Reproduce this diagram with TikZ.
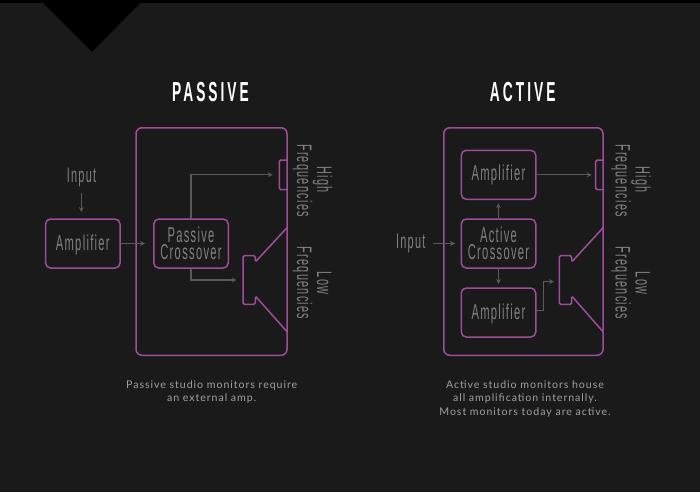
\documentclass[tikz,border=0pt]{standalone}
\usepackage{fontspec}
\usepackage{tikz}
\usetikzlibrary{positioning,calc}
\newfontfamily\condfont[FakeStretch=0.52,LetterSpace=6]{Liberation Sans}
\newfontfamily\titlefont[FakeStretch=0.5,LetterSpace=11]{Liberation Sans}
\newfontfamily\notefont[LetterSpace=9]{Lato}
\definecolor{bgdark}{HTML}{1A1A1A}
\definecolor{monitor}{HTML}{A04C9C}
\definecolor{labelgray}{HTML}{808080}
\definecolor{wiregray}{HTML}{5A5A5A}
\definecolor{notegray}{HTML}{A0A0A0}
\tikzset{
  title/.style={text=white,font=\titlefont\bfseries\fontsize{27.5}{27.5}\selectfont,inner sep=0pt},
  label/.style={text=labelgray,font=\condfont\fontsize{21}{17}\selectfont,align=center,inner sep=0pt},
  sidelabel/.style={label,rotate=-90,anchor=base},
  note/.style={text=notegray,font=\notefont\fontsize{10.6}{13.6}\selectfont,align=center,inner sep=0pt},
  cabinet/.style={draw=monitor,line width=1.5pt,rounded corners=6pt,inner sep=0pt,outer sep=0pt},
  block/.style={cabinet,rounded corners=5pt,minimum width=74.5pt,minimum height=49pt,
    text=labelgray,font=\condfont\fontsize{21.5}{17}\selectfont,align=center},
  driver/.style={draw=monitor,line width=1.5pt,rounded corners=1.5pt,inner sep=0pt,outer sep=0pt},
  wire/.style={draw=wiregray,line width=1.2pt,->,>=stealth}
}
\begin{document}
\begin{tikzpicture}[x=1pt,y=-1pt]
    % background
    \fill[bgdark] (0,0) rectangle (700,492);
    \fill[black] (0,0) rectangle (700,3);
    \fill[black] (43,3) -- (140,3) -- (92,52) -- cycle;
    \useasboundingbox (0,0) rectangle (700,492);

    % Passive
    \node[title] (ptitle) at (210.5,92) {PASSIVE};
    \node[cabinet,minimum width=151pt,minimum height=227.5pt] (pbox) at (211.5,241.5) {};
    \node[block,text height=15.7pt,text depth=1.3pt] (pamp) at (82.8,243.5) {Amplifier};
    \node[block] (pcross) at (191,243.5) {Passive\\Crossover};
    \node[label] (pinput) at (81.5,177) {Input};

    % Passive speakers
    \draw[driver] (287,160) -| (279.3,189.7) -- (287,189.7);
    \draw[driver] (287,227.7) -- (255.3,262) -- (255.3,255.7) -- (243,255.7) -- (243,304.3)
      -- (255.3,304.3) -- (255.3,296) -- (287,331.7);
    \node[sidelabel] (phigh) at (317,179.5) {High};
    \node[sidelabel] (phighf) at (297,180.5) {Frequencies};
    \node[sidelabel] (plow) at (317,283) {Low};
    \node[sidelabel] (plowf) at (297,283) {Frequencies};

    % Passive wires
    \coordinate (ptweet) at (272.7,174.7);
    \coordinate (pwoof) at (236.7,280);
    \coordinate (pin) at (81.3,193);
    \coordinate (pamptop) at (81.3,212);
    \coordinate (pcrossin) at (145,243.5);
    \draw[wire] (pin) -- (pamptop);
    \draw[wire] (pamp.east) -- (pcrossin);
    \draw[wire] (pcross.north) |- (ptweet);
    \draw[wire] (pcross.south) |- (pwoof);

    % Active
    \node[title] (atitle) at (522.7,92) {ACTIVE};
    \node[cabinet,minimum width=159.3pt,minimum height=227.5pt] (abox) at (523.4,241.5) {};
    \node[block] (atop) at (498.5,174.8) {Amplifier};
    \node[block] (across) at (498.5,243.5) {Active\\Crossover};
    \node[block,text height=15.7pt,text depth=2.7pt] (abot) at (498.5,312.5) {Amplifier};
    \node[label] (ainput) at (410.7,243.5) {Input};

    % Active speakers
    \draw[driver] (603,160) -| (595.7,189.7) -- (603,189.7);
    \draw[driver] (603,227.7) -- (571.7,262) -- (571.7,255.7) -- (559.3,255.7) -- (559.3,304.3)
      -- (571.7,304.3) -- (571.7,296) -- (603,331.7);
    \node[sidelabel] (ahigh) at (635.5,179.5) {High};
    \node[sidelabel] (ahighf) at (615.5,180.5) {Frequencies};
    \node[sidelabel] (alow) at (635.5,283) {Low};
    \node[sidelabel] (alowf) at (615.5,283) {Frequencies};

    % Active wires
    \coordinate (ain) at (433.3,243.5);
    \coordinate (acrossin) at (455,243.5);
    \coordinate (atweet) at (591.7,174.8);
    \coordinate (awoof) at (554,281.7);
    \coordinate (abend) at (543.3,310.7);
    \draw[wire] (ain) -- (acrossin);
    \draw[wire] (atop.east) -- (atweet);
    \draw[wire,shorten >=4pt] (across.north) -- (atop.south);
    \draw[wire,shorten >=4pt] (across.south) -- (abot.north);
    \draw[wire] (abot.east |- abend) -- (abend) |- (awoof);

    % Notes
    \node[note] (pnote) at (211.7,392) {Passive studio monitors require\\an external amp.};
    \node[note] (anote) at (525,398.8) {Active studio monitors house\\all amplification internally.\\Most monitors today are active.};
\end{tikzpicture}
\end{document}
